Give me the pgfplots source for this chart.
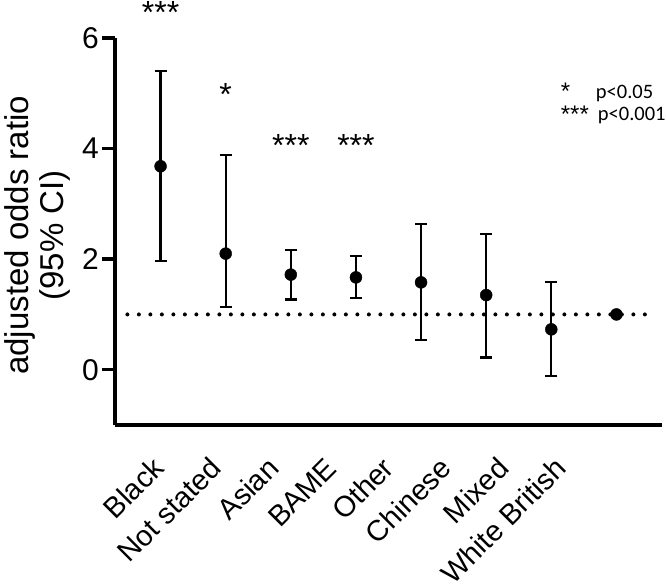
\documentclass[border=0pt]{standalone}
\usepackage{pgfplots}
\pgfplotsset{compat=1.18}
\usepackage{pgfplotstable}
\usepackage{fontspec}
\setmainfont{Liberation Sans}
\newfontfamily\carlito{Carlito}
\pgfplotstableread{
x y ep em
0 3.68 1.72 1.72
1 2.10 1.79 0.97
2 1.72 0.45 0.45
3 1.67 0.38 0.37
4 1.58 1.05 1.04
5 1.35 1.11 1.13
6 0.73 0.85 0.85
}\ordata
\begin{document}
\begin{tikzpicture}
\begin{axis}[
  at={(0,0)}, anchor=south west,
  scale only axis, width=547bp, height=387bp,
  xmin=-0.7, xmax=7.7, ymin=-1, ymax=6,
  axis x line=bottom, axis y line=left,
  axis line style={line width=3.5bp, -},
  ytick={0,2,4,6},
  y tick style={line width=3.5bp, black},
  tick align=outside,
  major tick length=13bp,
  xtick={0,0.883,1.766,2.649,3.532,4.415,5.298,6.181},
  xticklabels={Black,Not stated,Asian,BAME,Other,Chinese,Mixed,White British},
  x tick style={draw=none},
  xticklabel shift=27bp,
  xticklabel style={rotate=45, anchor=north east, inner sep=0pt, text height=0.72em, text depth=0pt, font=\fontsize{29bp}{30bp}\selectfont},
  yticklabel style={font=\fontsize{30bp}{30bp}\selectfont, inner sep=0pt, xshift=-3bp},
  /pgf/number format/assume math mode=true,
  ylabel={adjusted odds ratio\\(95\% CI)},
  ylabel style={font=\fontsize{33bp}{35bp}\selectfont, align=center, at={(axis description cs:-0.1417,0.49)}, anchor=center},
  clip=false,
]
\addplot[line width=4bp, dash pattern=on 0pt off 11.5bp, line cap=round] coordinates {(-0.51,1) (7.55,1)};
\addplot[only marks, mark=*, mark size=6bp, black,
  error bars/.cd, y dir=both, y explicit,
  error bar style={line width=2.2bp},
  error mark options={rotate=90, mark size=6bp, line width=2.2bp}]
  table[x=x, y=y, y error plus=ep, y error minus=em]{\ordata};
\addplot[only marks, mark=*, mark size=6bp, black] coordinates {(7,1.00)};
\node[font=\fontsize{32bp}{32bp}\selectfont, anchor=base] at (axis cs:0,6.26) {***};
\node[font=\fontsize{32bp}{32bp}\selectfont, anchor=base] at (axis cs:1,4.78) {*};
\node[font=\fontsize{32bp}{32bp}\selectfont, anchor=base] at (axis cs:2,3.86) {***};
\node[font=\fontsize{32bp}{32bp}\selectfont, anchor=base] at (axis cs:3,3.86) {***};
\node[font=\fontsize{24bp}{24bp}\selectfont, anchor=base west, inner sep=0pt] at (axis cs:6.144,4.88) {*};
\node[font=\carlito\fontsize{20.5bp}{21bp}\selectfont, anchor=base west, inner sep=0pt] at (axis cs:6.682,4.91) {p<0.05};
\node[font=\fontsize{24bp}{24bp}\selectfont, anchor=base west, inner sep=0pt] at (axis cs:6.144,4.48) {***};
\node[font=\carlito\fontsize{20.5bp}{21bp}\selectfont, anchor=base west, inner sep=0pt] at (axis cs:6.713,4.51) {p<0.001};
\end{axis}
\pgfresetboundingbox
\path[use as bounding box] (-115bp,-159bp) rectangle (551bp,425bp);
\end{tikzpicture}
\end{document}
